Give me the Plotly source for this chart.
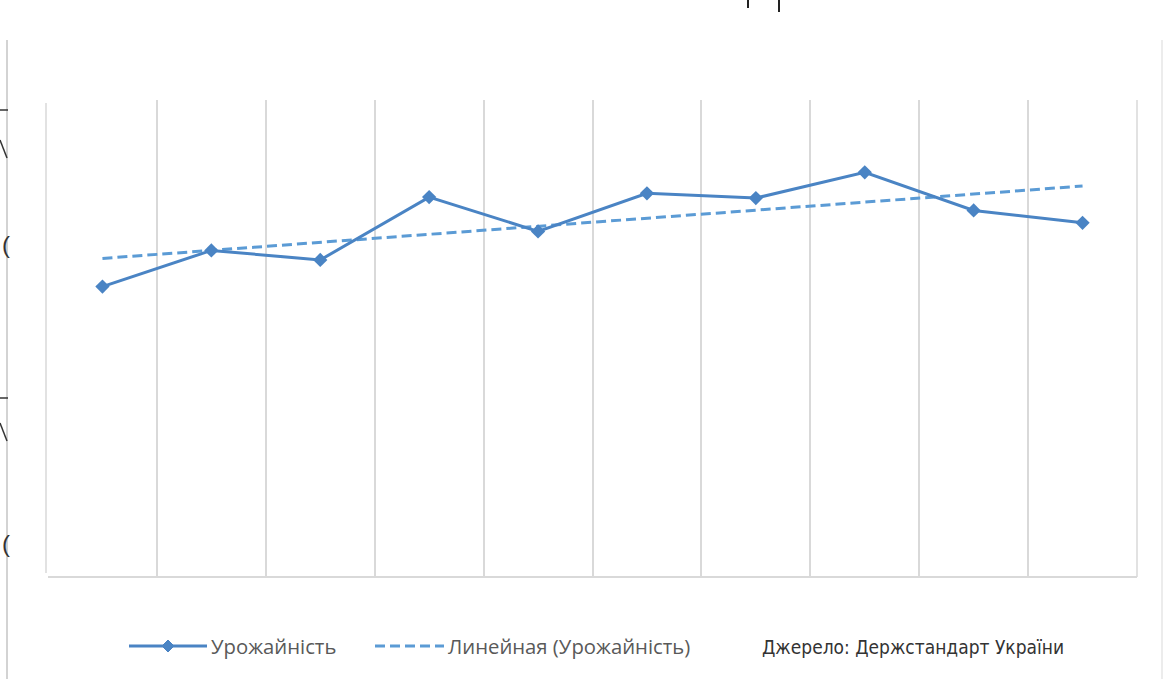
import numpy as np
import plotly.graph_objects as go

# Yield by year (centners per hectare)
years = ["2009", "2010", "2011", "2012", "2013", "2014", "2015", "2016", "2017", "2018"]
yield_values = [30.4, 34.2, 33.2, 39.8, 36.2, 40.2, 39.7, 42.4, 38.4, 37.1]

series_name = "Урожайність"
trend_name = "Линейная (Урожайність)"
source_text = "Джерело: Держстандарт України"

W, H = 1164, 679
L, R, T, B = 48, 27, 100, 103
PW, PH = W - L - R, H - T - B

LINE_COLOR = "#4a84c4"
TREND_COLOR = "#5b9bd5"
GRID_COLOR = "#d9d9d9"
TEXT_COLOR = "#595959"


def px(x):
    return (x - L) / PW


def py(y):
    return (H - B - y) / PH


# least-squares trend over the category index
idx = np.arange(len(years))
slope, intercept = np.polyfit(idx, yield_values, 1)
trend_values = slope * idx + intercept

fig = go.Figure()

fig.add_trace(go.Scatter(
    x=years, y=trend_values, mode="lines", name=trend_name,
    line=dict(color=TREND_COLOR, width=3, dash="10px,5px"),
    showlegend=False, hoverinfo="skip",
))
fig.add_trace(go.Scatter(
    x=years, y=yield_values, mode="lines+markers", name=series_name,
    line=dict(color=LINE_COLOR, width=3),
    marker=dict(symbol="diamond", size=11, color=LINE_COLOR),
    showlegend=False,
))

shapes = []
annotations = []

# plot-area frame pieces
shapes.append(dict(type="line", xref="paper", yref="paper",
                   x0=px(46), x1=px(46), y0=py(103), y1=py(573),
                   line=dict(color=GRID_COLOR, width=1.5)))
shapes.append(dict(type="line", xref="paper", yref="paper",
                   x0=px(1137), x1=px(1137), y0=py(100), y1=py(577),
                   line=dict(color=GRID_COLOR, width=1.5)))
# outer edges
shapes.append(dict(type="line", xref="paper", yref="paper",
                   x0=px(7), x1=px(7), y0=py(40), y1=py(679),
                   line=dict(color="#c4c4c4", width=1.5)))
shapes.append(dict(type="line", xref="paper", yref="paper",
                   x0=px(1162), x1=px(1162), y0=py(40), y1=py(679),
                   line=dict(color="#e6e6e6", width=1.5)))
for yy in (110, 398):
    shapes.append(dict(type="line", xref="paper", yref="paper",
                       x0=px(0), x1=px(8), y0=py(yy), y1=py(yy),
                       line=dict(color="#333333", width=1.5)))
for y0 in (140, 423):
    shapes.append(dict(type="line", xref="paper", yref="paper",
                       x0=px(0), x1=px(7), y0=py(y0), y1=py(y0 + 18),
                       line=dict(color="#333333", width=1.5)))
for yc in (244, 543):
    annotations.append(dict(xref="paper", yref="paper", x=px(6), y=py(yc),
                            text="(", showarrow=False, xanchor="center",
                            yanchor="middle",
                            font=dict(family="Liberation Sans", size=24,
                                      color="#333333")))
for xx, yl in ((748, 8), (779, 12)):
    shapes.append(dict(type="line", xref="paper", yref="paper",
                       x0=px(xx), x1=px(xx), y0=py(0), y1=py(yl),
                       line=dict(color="#222222", width=2)))

# legend
LEG_Y = 646
shapes.append(dict(type="line", xref="paper", yref="paper",
                   x0=px(129), x1=px(207), y0=py(LEG_Y), y1=py(LEG_Y),
                   line=dict(color=LINE_COLOR, width=3)))
shapes.append(dict(type="path", xref="paper", yref="paper",
                   path=(f"M {px(168)},{py(LEG_Y - 6)} L {px(174)},{py(LEG_Y)} "
                         f"L {px(168)},{py(LEG_Y + 6)} L {px(162)},{py(LEG_Y)} Z"),
                   fillcolor=LINE_COLOR, line=dict(color=LINE_COLOR, width=1)))
shapes.append(dict(type="line", xref="paper", yref="paper",
                   x0=px(375), x1=px(444), y0=py(LEG_Y), y1=py(LEG_Y),
                   line=dict(color=TREND_COLOR, width=3, dash="10px,5px")))
leg_font = dict(family="Open Sans, Liberation Sans", size=20.3, color=TEXT_COLOR)
annotations.append(dict(xref="paper", yref="paper", x=px(209), y=py(LEG_Y),
                        text=series_name, showarrow=False, xanchor="left",
                        yanchor="middle", font=leg_font))
annotations.append(dict(xref="paper", yref="paper", x=px(446), y=py(LEG_Y),
                        text=trend_name, showarrow=False, xanchor="left",
                        yanchor="middle", font=leg_font))
annotations.append(dict(xref="paper", yref="paper", x=px(760), y=py(LEG_Y + 1),
                        text=source_text, showarrow=False, xanchor="left",
                        yanchor="middle",
                        font=dict(family="DejaVu Sans Condensed, Liberation Sans",
                                  size=19, color="#333333")))

fig.update_layout(
    width=W, height=H,
    margin=dict(l=L, r=R, t=T, b=B),
    paper_bgcolor="white", plot_bgcolor="white",
    xaxis=dict(type="category", tickson="boundaries", showgrid=True,
               gridcolor=GRID_COLOR, gridwidth=1.5, showline=True,
               linecolor=GRID_COLOR, linewidth=1.5, ticks="",
               showticklabels=False, range=[-0.5, len(years) - 0.5],
               zeroline=False),
    yaxis=dict(range=[0, 50], showgrid=False, showticklabels=False,
               zeroline=False, showline=False, ticks=""),
    shapes=shapes,
    annotations=annotations,
    showlegend=False,
)

fig.write_html("out.html")
